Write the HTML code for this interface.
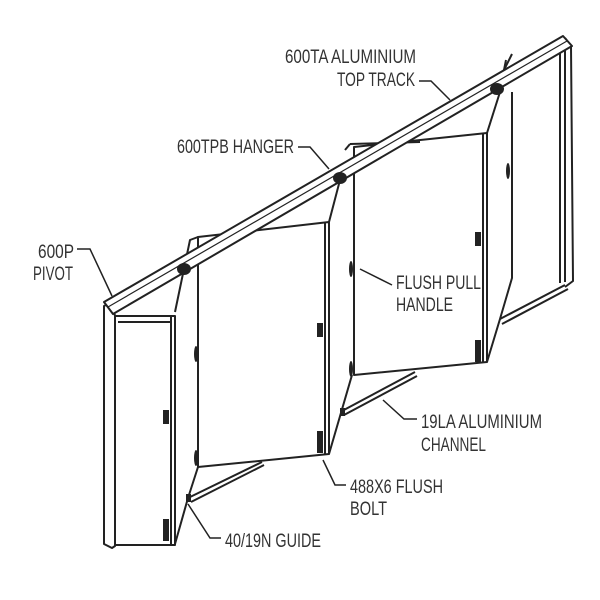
<!DOCTYPE html>
<html><head><meta charset="utf-8"><style>
html,body{margin:0;padding:0;background:#fff;}
svg{display:block}
text{font-family:"Liberation Sans Narrow","Liberation Sans",sans-serif;font-size:19px;fill:#333;}
</style></head><body>
<svg width="600" height="600" viewBox="0 0 600 600" xmlns="http://www.w3.org/2000/svg">
<g fill="none" stroke="#222" stroke-width="2" stroke-linejoin="round">
<!-- right frame -->
<polyline points="565,38 571,46 573,281 565,287"/>
<line x1="565" y1="50" x2="565" y2="282"/>
<line x1="560" y1="53" x2="560" y2="283"/>
<polyline points="565,285 500,319"/>
<polyline points="568,289 502,324"/>
<!-- panel 5 strip -->
<polyline points="487,133 500,92"/>
<line x1="500" y1="78" x2="512" y2="54"/>
<line x1="506" y1="60" x2="502" y2="80"/>
<polyline points="512,92 512,278 500,319 487,362"/>
<!-- panel 4 -->
<polygon points="354,147 487,133 487,362 354,375" fill="#fff"/>
<line x1="483" y1="134" x2="483" y2="362"/>
<!-- panel 3 strip -->
<polyline points="329,222 340,180"/>
<line x1="345" y1="150" x2="350" y2="144"/>
<polyline points="350,144 420,142"/>
<line x1="329" y1="454" x2="352" y2="375"/>
<!-- panel 2 -->
<polygon points="198,237 329,222 329,454 198,467" fill="#fff"/>
<line x1="325" y1="223" x2="325" y2="454"/>
<polyline points="175,312 190,240 198,237"/>
<polyline points="175,544 188,498 198,467"/>
<!-- panel 1 & post -->
<rect x="115" y="316" width="60" height="229" fill="#fff"/>
<line x1="171" y1="316" x2="171" y2="545"/>
<line x1="118" y1="322" x2="172" y2="322"/>
<polygon points="104,306 112,302 115,316 115,546 112,548 104,544" fill="#fff"/>
<!-- channels -->
<line x1="188" y1="498" x2="262" y2="462"/>
<line x1="191" y1="502" x2="264" y2="465"/>
<line x1="342" y1="411" x2="415" y2="372"/>
<line x1="344" y1="415" x2="417" y2="376"/>
<!-- track -->
<polygon points="104,302 563,36 572,46 113,314" fill="#fff"/>
<line x1="108" y1="307" x2="567" y2="41" stroke-width="1.2"/>
</g>
<g fill="#222">
<ellipse cx="184" cy="269" rx="7" ry="6"/>
<ellipse cx="340" cy="178" rx="7" ry="6"/>
<ellipse cx="497" cy="89" rx="7" ry="6"/>
<rect x="163" y="410" width="6" height="14"/>
<rect x="163" y="519" width="6" height="22"/>
<rect x="317" y="323" width="6" height="14"/>
<rect x="317" y="431" width="6" height="22"/>
<rect x="475" y="232" width="6" height="14"/>
<rect x="475" y="340" width="6" height="22"/>
<ellipse cx="196" cy="354" rx="2" ry="8"/>
<ellipse cx="196" cy="458" rx="2" ry="8"/>
<ellipse cx="351" cy="269" rx="2" ry="8"/>
<ellipse cx="351" cy="369" rx="2" ry="8"/>
<ellipse cx="508" cy="171" rx="2" ry="8"/>
<rect x="186" y="494" width="5" height="8"/>
<rect x="340" y="408" width="5" height="8"/>
</g>
<g fill="none" stroke="#222" stroke-width="1.5">
<polyline points="419,81 431,81 450,100"/>
<polyline points="298,147 310,147 329,169"/>
<polyline points="77,249 90,249 112,296"/>
<polyline points="392,285 360,269"/>
<polyline points="417,419 404,419 383,400"/>
<polyline points="346,485 335,485 323,460"/>
<polyline points="221,538 210,538 188,504"/>
</g>
<text x="285" y="63" textLength="131" lengthAdjust="spacingAndGlyphs">600TA ALUMINIUM</text>
<text x="337" y="86" textLength="78" lengthAdjust="spacingAndGlyphs">TOP TRACK</text>
<text x="177" y="153" textLength="117" lengthAdjust="spacingAndGlyphs">600TPB HANGER</text>
<text x="38" y="258" textLength="36" lengthAdjust="spacingAndGlyphs">600P</text>
<text x="33" y="280" textLength="40" lengthAdjust="spacingAndGlyphs">PIVOT</text>
<text x="396" y="289" textLength="85" lengthAdjust="spacingAndGlyphs">FLUSH PULL</text>
<text x="396" y="311" textLength="57" lengthAdjust="spacingAndGlyphs">HANDLE</text>
<text x="421" y="428" textLength="121" lengthAdjust="spacingAndGlyphs">19LA ALUMINIUM</text>
<text x="421" y="451" textLength="65" lengthAdjust="spacingAndGlyphs">CHANNEL</text>
<text x="350" y="493" textLength="93" lengthAdjust="spacingAndGlyphs">488X6 FLUSH</text>
<text x="350" y="515" textLength="37" lengthAdjust="spacingAndGlyphs">BOLT</text>
<text x="225" y="547" textLength="96" lengthAdjust="spacingAndGlyphs">40/19N GUIDE</text>
</svg>
</body></html>
